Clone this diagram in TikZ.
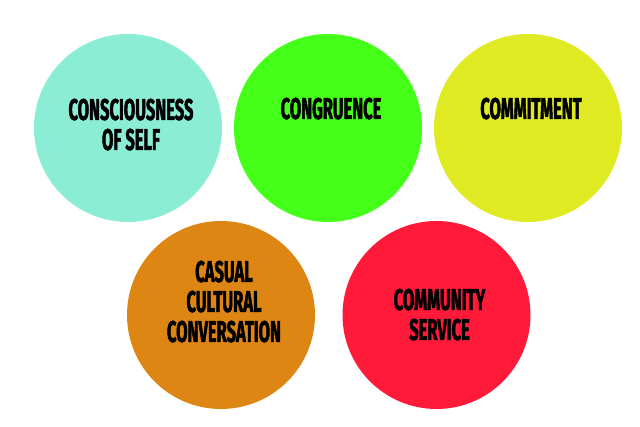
\documentclass[tikz,border=0pt]{standalone}
\usepackage{fontspec}
\newfontfamily\condfont[FakeStretch=0.55,FakeBold=1.5]{Fira Sans}
\definecolor{cmint}{HTML}{8CEDD5}
\definecolor{cgreen}{HTML}{44FF17}
\definecolor{cyellow}{HTML}{E0EA22}
\definecolor{corange}{HTML}{DE8614}
\definecolor{cred}{HTML}{FF1A3A}
\tikzset{
  disc/.style={circle, minimum size=188pt, inner sep=0pt, draw=none},
  lbl/.style={font=\condfont\bfseries\fontsize{30}{30}\selectfont, align=center, text=black, inner sep=0pt, anchor=base}
}
\begin{document}
\begin{tikzpicture}[x=1pt,y=1pt]
\useasboundingbox (0,0) rectangle (640,427);
\node[disc, fill=cmint] (c1) at (128,299) {};
\node[disc, fill=cgreen] (c2) at (328,299) {};
\node[disc, fill=cyellow] (c3) at (528,299) {};
\node[disc, fill=corange] (c4) at (221,112) {};
\node[disc, fill=cred] (c5) at (436.5,112) {};
\node[lbl] (t1) at ([xshift=3pt,yshift=-22pt]c1.center) {CONSCIOUSNESS\\OF SELF};
\node[lbl] (t2) at ([xshift=3pt,yshift=9pt]c2.center) {CONGRUENCE};
\node[lbl] (t3) at ([xshift=3pt,yshift=9pt]c3.center) {COMMITMENT};
\node[lbl] (t4) at ([xshift=3pt,yshift=-27pt]c4.center) {CASUAL\\CULTURAL\\CONVERSATION};
\node[lbl] (t5) at ([xshift=3pt,yshift=-25pt]c5.center) {COMMUNITY\\SERVICE};
\end{tikzpicture}
\end{document}
